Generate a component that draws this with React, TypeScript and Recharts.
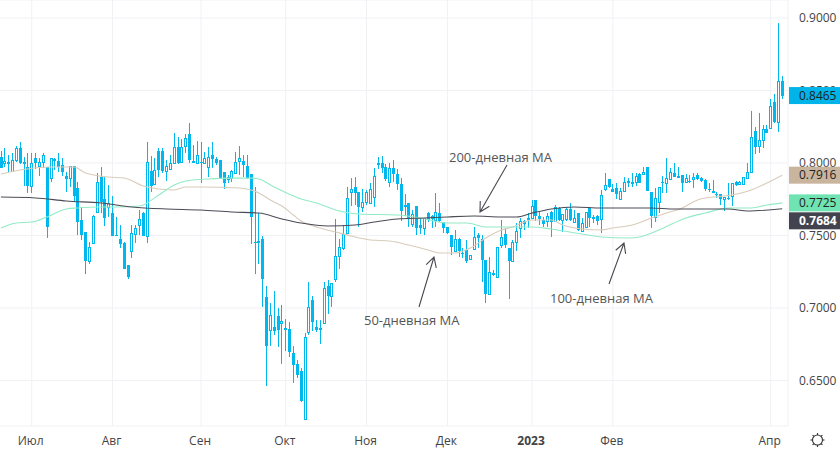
import React from "react";
import { ComposedChart, Bar, Line, XAxis, YAxis, CartesianGrid } from "recharts";

const highs = [
.8083,.8103,.8055,.8069,.8117,.8145,.8041,.8069,.8069,.8069,
.8034,.8069,.7972,.8034,.8034,.8069,.8034,.7938,.7979,.7979,
.7869,.7697,.7524,.7455,.7641,.7931,.7972,.7903,.7848,.7772,
.7628,.7572,.7455,.7296,.7572,.7572,.7676,.7662,.8145,.8048,
.8034,.8103,.8103,.8021,.8055,.8207,.8179,.8165,.8200,.8276,
.8124,.8151,.8145,.8076,.8110,.8145,.8041,.8021,.7938,.7917,
.7952,.8076,.8117,.8055,.8055,.7924,.7834,.7655,.7496,.7152,
.7034,.7117,.7000,.7021,.6924,.6903,.6738,.6641,.6586,.6828,
.7179,.7083,.6917,.6917,.7179,.7193,.7172,.7614,.7476,.7572,
.7834,.7896,.7903,.7800,.7821,.7814,.7862,.7966,.8041,.8048,
.7993,.8000,.8021,.7959,.7896,.7786,.7724,.7676,.7703,.7621,
.7621,.7662,.7641,.7793,.7724,.7593,.7559,.7503,.7538,.7483,
.7414,.7469,.7365,.7559,.7517,.7503,.7331,.7352,.7262,.7421,
.7607,.7552,.7414,.7469,.7586,.7621,.7607,.7655,.7745,.7745,
.7662,.7628,.7655,.7669,.7710,.7697,.7648,.7697,.7724,.7676,
.7655,.7621,.7662,.7697,.7641,.7641,.7814,.7931,.7890,.7855,
.7862,.7828,.7903,.7896,.7931,.7931,.7931,.7972,.7972,.7800,
.7828,.7834,.7910,.8034,.7966,.8000,.7972,.7917,.7924,.7917,
.7931,.7931,.7903,.7890,.7862,.7883,.7800,.7786,.7765,.7862,
.7862,.7876,.7876,.7903,.8000,.8359,.8248,.8345,.8262,.8262,
.8441,.8476,.8965,.8600];

const lows = [
.7966,.7972,.7938,.7938,.8007,.7993,.7841,.7793,.7793,.7959,
.7910,.7966,.7483,.7869,.7952,.7938,.7910,.7800,.7834,.7731,
.7503,.7469,.7234,.7303,.7441,.7655,.7655,.7565,.7628,.7496,
.7496,.7414,.7269,.7200,.7345,.7448,.7503,.7496,.7448,.7800,
.7848,.7903,.7931,.7876,.7952,.8000,.7993,.8000,.8069,.8000,
.8000,.8000,.7862,.7993,.7903,.7966,.7986,.7896,.7821,.7862,
.7869,.7931,.7917,.7903,.7890,.7441,.7234,.7303,.7007,.6462,
.6738,.6814,.6731,.6614,.6703,.6662,.6483,.6517,.6351,.6234,
.6814,.6841,.6834,.6752,.6896,.6959,.7007,.7179,.7269,.7400,
.7517,.7703,.7710,.7559,.7662,.7710,.7724,.7697,.7959,.7931,
.7876,.7834,.7869,.7814,.7600,.7634,.7559,.7559,.7503,.7510,
.7503,.7593,.7552,.7559,.7593,.7517,.7510,.7365,.7386,.7352,
.7345,.7310,.7338,.7400,.7414,.7179,.7034,.7090,.7221,.7214,
.7414,.7414,.7062,.7324,.7393,.7483,.7538,.7552,.7621,.7600,
.7572,.7559,.7559,.7490,.7593,.7600,.7524,.7600,.7600,.7593,
.7531,.7524,.7559,.7559,.7586,.7572,.7517,.7807,.7828,.7800,
.7752,.7752,.7800,.7834,.7834,.7841,.7862,.7917,.7807,.7552,
.7593,.7655,.7793,.7793,.7883,.7903,.7896,.7800,.7862,.7862,
.7828,.7883,.7869,.7807,.7800,.7793,.7759,.7710,.7669,.7745,
.7703,.7841,.7848,.7848,.7896,.7931,.8062,.8069,.8103,.8207,
.8234,.8276,.8214,.8441];

const opens = [
.8041,.8000,.8007,.7945,.8021,.8103,.8007,.7972,.7841,.8034,
.7979,.8007,.7972,.7896,.8028,.8014,.7986,.7910,.7896,.7979,
.7828,.7607,.7524,.7324,.7448,.7662,.7903,.7752,.7697,.7655,
.7503,.7476,.7448,.7296,.7393,.7510,.7572,.7655,.7496,.7945,
.7855,.8083,.8083,.7945,.7959,.8000,.8110,.8007,.8117,.8200,
.8014,.8000,.8007,.8000,.7972,.8055,.8028,.8021,.7938,.7890,
.7896,.7931,.8014,.8014,.7979,.7924,.7455,.7455,.7476,.7076,
.6848,.6869,.6945,.6896,.6862,.6855,.6690,.6614,.6565,.6234,
.6834,.7055,.6869,.6862,.6896,.7152,.7083,.7200,.7359,.7414,
.7517,.7800,.7834,.7800,.7697,.7731,.7724,.7765,.7993,.8000,
.7972,.7869,.7966,.7924,.7855,.7710,.7724,.7579,.7703,.7572,
.7552,.7655,.7621,.7607,.7655,.7593,.7559,.7503,.7393,.7476,
.7379,.7400,.7338,.7407,.7503,.7476,.7331,.7096,.7241,.7214,
.7434,.7510,.7414,.7324,.7455,.7552,.7600,.7614,.7621,.7745,
.7634,.7607,.7600,.7662,.7600,.7690,.7607,.7614,.7683,.7593,
.7655,.7531,.7559,.7690,.7628,.7634,.7614,.7821,.7890,.7821,
.7828,.7752,.7807,.7876,.7862,.7869,.7924,.7924,.7972,.7800,
.7628,.7731,.7869,.7862,.7890,.7931,.7910,.7917,.7869,.7876,
.7890,.7917,.7896,.7883,.7821,.7807,.7786,.7786,.7752,.7759,
.7772,.7869,.7855,.7855,.7896,.7938,.8221,.8117,.8158,.8234,
.8241,.8421,.8283,.8565];

const closes = [
.7966,.8014,.7993,.8021,.8103,.8000,.7993,.7841,.8000,.8000,
.8007,.8055,.7559,.8034,.8014,.7972,.7938,.7890,.7979,.7772,
.7593,.7503,.7324,.7421,.7634,.7869,.7731,.7621,.7724,.7496,
.7496,.7441,.7269,.7214,.7517,.7552,.7614,.7496,.8007,.7841,
.7952,.7952,.7945,.7979,.8000,.8110,.8000,.8110,.8172,.8021,
.8000,.8055,.8000,.8034,.8041,.8028,.8000,.7896,.7862,.7903,
.7945,.8007,.8034,.7986,.7896,.7628,.7448,.7462,.7200,.6738,
.6952,.6841,.6848,.6910,.6848,.6697,.6607,.6538,.6358,.6800,
.7007,.6903,.6848,.6848,.7138,.7083,.7172,.7359,.7421,.7510,
.7759,.7821,.7793,.7697,.7731,.7800,.7821,.7910,.8000,.7966,
.7890,.7966,.7924,.7855,.7669,.7697,.7614,.7648,.7552,.7552,
.7621,.7607,.7634,.7662,.7600,.7552,.7517,.7421,.7476,.7393,
.7372,.7324,.7365,.7490,.7483,.7331,.7096,.7248,.7228,.7421,
.7490,.7434,.7324,.7455,.7531,.7600,.7579,.7621,.7703,.7634,
.7614,.7579,.7634,.7593,.7697,.7607,.7648,.7683,.7607,.7621,
.7538,.7586,.7662,.7621,.7614,.7600,.7779,.7848,.7834,.7800,
.7786,.7807,.7869,.7862,.7869,.7910,.7862,.7938,.7807,.7634,
.7759,.7834,.7862,.7896,.7938,.7903,.7896,.7862,.7896,.7869,
.7903,.7890,.7876,.7821,.7814,.7793,.7779,.7752,.7765,.7752,
.7862,.7848,.7869,.7903,.7938,.8179,.8110,.8158,.8234,.8207,
.8393,.8283,.8565,.8465];

// [bar number, moving-average value]
const ma50Points = [[0,.7924],[5,.7952],[13,.7972],[19,.7972],[22,.7931],[28,.7903],[32,.7896],[37,.7841],[41,.7821],[45,.7814],[48,.7834],[52,.7834],[62,.7828],[65,.7814],[67,.7793],[70,.7745],[73,.7703],[76,.7641],[78,.7600],[82,.7559],[87,.7524],[91,.7496],[96,.7469],[101,.7462],[106,.7434],[111,.7400],[114,.7379],[118,.7379],[122,.7414],[126,.7483],[130,.7538],[133,.7559],[138,.7607],[143,.7607],[146,.7572],[151,.7545],[156,.7538],[159,.7552],[164,.7572],[169,.7621],[173,.7655],[177,.7690],[181,.7745],[185,.7765],[190,.7779],[195,.7814],[199,.7862],[203,.7916]];
const ma100Points = [[0,.7552],[4,.7586],[8,.7593],[12,.7628],[17,.7683],[20,.7690],[25,.7697],[30,.7697],[36,.7703],[41,.7779],[45,.7848],[48,.7876],[54,.7890],[60,.7896],[65,.7896],[67,.7890],[71,.7834],[78,.7752],[82,.7724],[88,.7669],[93,.7648],[103,.7641],[109,.7621],[116,.7586],[121,.7586],[126,.7559],[134,.7559],[138,.7559],[143,.7545],[151,.7510],[156,.7490],[163,.7483],[166,.7490],[171,.7538],[178,.7621],[183,.7655],[189,.7690],[195,.7690],[199,.7710],[203,.7725]];
const ma200Points = [[0,.7765],[9,.7759],[17,.7738],[26,.7724],[34,.7697],[43,.7683],[52,.7676],[60,.7662],[67,.7655],[73,.7614],[78,.7586],[85,.7565],[92,.7572],[97,.7593],[103,.7614],[110,.7621],[116,.7628],[123,.7634],[130,.7628],[134,.7628],[138,.7655],[143,.7683],[149,.7697],[156,.7690],[169,.7690],[175,.7683],[182,.7683],[189,.7683],[194,.7669],[203,.7684]];

const monthBars = [8, 29, 52, 74, 95, 116, 138, 159, 200];
const monthLabels = ["Июл", "Авг", "Сен", "Окт", "Ноя", "Дек", "2023", "Фев", "Апр"];
const priceTicks = [0.65, 0.7, 0.75, 0.8, 0.85, 0.9];
const priceDomain = [0.61862, 0.91241];
const lastPrices = [
  { value: 0.8465, fill: "#00b4ea", ink: "#222", shift: 0, weight: 400 },
  { value: 0.7916, fill: "#c9b59e", ink: "#222", shift: 0, weight: 400 },
  { value: 0.7725, fill: "#6fe3b2", ink: "#222", shift: 0, weight: 400 },
  { value: 0.7684, fill: "#43434f", ink: "#fff", shift: 12, weight: 700 },
];

const lookup = (pts: number[][]) => new Map(pts.map((p) => [p[0], p[1]]));
const m50 = lookup(ma50Points), m100 = lookup(ma100Points), m200 = lookup(ma200Points);
const BLANK_ROWS = 1;
const rows = Array.from({ length: highs.length + BLANK_ROWS }, (_, i) => ({
  i,
  open: opens[i],
  high: highs[i],
  low: lows[i],
  close: closes[i],
  ma50: m50.get(i),
  ma100: m100.get(i),
  ma200: m200.get(i),
}));

const BLUE = "#00b8ee";
const FONT = "'Open Sans', sans-serif";

function Candle(props: any) {
  const { x, y, width, height, payload } = props;
  if (!payload || payload.high == null) return null;
  const { open, high, low, close } = payload;
  const top = Math.min(y, y + height);
  const h = Math.abs(height);
  const k = h / (high - low);
  const cx = Math.round(x + width / 2 - 0.5) + 0.5;
  const yTop = Math.round(top + (high - Math.max(open, close)) * k);
  const yBot = Math.round(top + (high - Math.min(open, close)) * k);
  const up = close >= open;
  return (
    <g>
      <line x1={cx} x2={cx} y1={top} y2={top + h} stroke={BLUE} strokeWidth={1} />
      {up ? (
        <rect x={cx - 1} y={yTop + 0.5} width={2} height={Math.max(yBot - yTop, 1)} fill="#fff" stroke={BLUE} strokeWidth={1} />
      ) : (
        <rect x={cx - 1.5} y={yTop} width={3} height={Math.max(yBot - yTop, 1)} fill={BLUE} />
      )}
    </g>
  );
}

function MonthTick(props: any) {
  const { x, y, payload } = props;
  const label = monthLabels[monthBars.indexOf(payload.value)] ?? "";
  return (
    <text x={x - 1} y={y + 11} textAnchor="middle" fontSize={12} fontFamily={FONT} fill="#444" fontWeight={label === "2023" ? 700 : 400}>
      {label}
    </text>
  );
}

function PriceTag(props: any) {
  const { y, payload } = props;
  const p = lastPrices.find((t) => t.value === payload.value);
  if (!p) return null;
  const yc = y + p.shift;
  return (
    <g>
      <rect x={789} y={yc - 8.5} width={51} height={17} fill={p.fill} />
      <text x={799} y={yc + 4} fontSize={12} fontFamily={FONT} fill={p.ink} fontWeight={p.weight}>
        {p.value.toFixed(4)}
      </text>
    </g>
  );
}

function Arrow({ x1, y1, x2, y2 }: { x1: number; y1: number; x2: number; y2: number }) {
  const a = Math.atan2(y2 - y1, x2 - x1);
  const len = 11;
  const spread = 0.5;
  const bx = x2 - len * Math.cos(a - spread), by = y2 - len * Math.sin(a - spread);
  const cx = x2 - len * Math.cos(a + spread), cy = y2 - len * Math.sin(a + spread);
  return (
    <path d={`M${x1} ${y1}L${x2} ${y2}M${bx} ${by}L${x2} ${y2}L${cx} ${cy}`} stroke="#484850" strokeWidth={1.1} fill="none" />
  );
}

const gearSpokes = [0, 45, 90, 135, 180, 225, 270, 315];

export default function App() {
  return (
    <div style={{ position: "absolute", left: 0, top: 0, width: 840, height: 450, background: "#fff", overflow: "hidden" }}>
      <ComposedChart width={840} height={450} data={rows} barCategoryGap={0} margin={{ top: 0, right: 0, bottom: 0, left: -1 }}>
        <CartesianGrid stroke="#f0f1f4" strokeWidth={1} />
        <XAxis dataKey="i" ticks={monthBars} interval={0} height={24} axisLine={false} tickLine={false} tick={<MonthTick />} />
        <YAxis
          orientation="right"
          domain={priceDomain}
          ticks={priceTicks}
          allowDataOverflow
          width={51}
          axisLine={false}
          tickLine={false}
          tickMargin={5}
          tick={{ fontSize: 12, fontFamily: FONT, fill: "#444" }}
          tickFormatter={(v: number) => v.toFixed(4)}
        />
        <YAxis
          yAxisId="tags"
          orientation="right"
          domain={priceDomain}
          ticks={lastPrices.map((p) => p.value)}
          allowDataOverflow
          interval={0}
          width={1}
          axisLine={false}
          tickLine={false}
          tick={<PriceTag />}
        />
        <Line dataKey="ma50" type="monotone" connectNulls dot={false} activeDot={false} stroke="#d8cbba" strokeWidth={1.1} isAnimationActive={false} />
        <Line dataKey="ma100" type="monotone" connectNulls dot={false} activeDot={false} stroke="#93eac6" strokeWidth={1.1} isAnimationActive={false} />
        <Line dataKey="ma200" type="monotone" connectNulls dot={false} activeDot={false} stroke="#4b4b56" strokeWidth={1.1} isAnimationActive={false} />
        <Bar dataKey={(d: any) => (d.high == null ? null : [d.low, d.high])} shape={<Candle />} activeBar={false} isAnimationActive={false} />
      </ComposedChart>
      <svg width={840} height={450} style={{ position: "absolute", left: 0, top: 0, pointerEvents: "none" }}>
        <g fontFamily={FONT} fontSize={13} fill="#555">
          <text x={449} y={162}>200-дневная MA</text>
          <text x={364} y={325}>50-дневная MA</text>
          <text x={550} y={303}>100-дневная MA</text>
        </g>
        <Arrow x1={507} y1={165} x2={480} y2={212} />
        <Arrow x1={419} y1={307} x2={434} y2={257} />
        <Arrow x1={609} y1={284} x2={624} y2={243} />
        <g transform="translate(817.5 440)" stroke="#333" fill="none">
          <circle r={5} strokeWidth={1.1} />
          {gearSpokes.map((d) => (
            <line key={d} x1={0} y1={-5} x2={0} y2={-7} transform={`rotate(${d})`} strokeWidth={1.1} />
          ))}
        </g>
      </svg>
    </div>
  );
}
